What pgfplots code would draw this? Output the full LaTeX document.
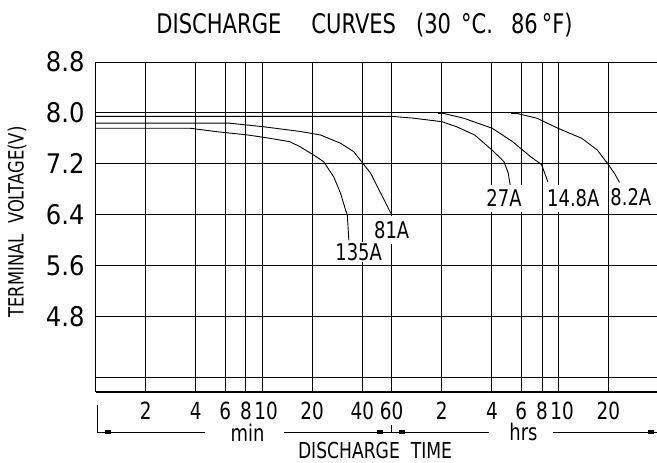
\documentclass[border=0pt]{standalone}
\usepackage{fontspec}
\setmainfont{DejaVu Sans}[FakeStretch=0.78]
\newfontfamily\ytfont{DejaVu Sans}[FakeStretch=0.9]
\usepackage{pgfplots}
\pgfplotsset{compat=1.18}

\begin{document}
\begin{tikzpicture}
\useasboundingbox (-47.8pt,-35pt) rectangle (280.7pt,196pt);
\begin{axis}[
  at={(0pt,0pt)}, anchor=south west,
  scale only axis, width=280.7pt, height=165pt,
  xmode=log, xmin=1, xmax=2355, ymin=3.62, ymax=8.8,
  axis x line*=bottom, axis y line*=left,
  axis line style={line width=0.55pt, black},
  xtick={2,4,6,8,10,20,40,60,120,240,360,480,600,1200},
  xticklabels={2,4,6\hspace{2.8pt},8,\hspace{4pt}10,20,40,60,2,4,6\hspace{3pt},8,\hspace{4pt}10,20},
  ytick={4.8,5.6,6.4,7.2,8.0,8.8},
  yticklabels={4.8,5.6,6.4,7.2,8.0,8.8},
  extra y ticks={3.84}, extra y tick labels={},
  extra y tick style={grid=major},
  grid=major, major grid style={line width=0.5pt, black},
  major tick length=0pt,
  tick label style={/pgf/number format/assume math mode=true},
  yticklabel style={font=\ytfont\fontsize{13.5}{13.5}\selectfont, xshift=-2pt},
  xticklabel style={font=\fontsize{11.8}{11.8}\selectfont, yshift=-1.5pt},
  clip=false,
]
% 135A
\addplot[black, line width=0.45pt] coordinates {
 (1,7.76)(3.70,7.76)(5.31,7.707)(8.17,7.655)(10.1,7.62)(14.65,7.55)(16.9,7.47)
 (20.4,7.34)(23.4,7.236)(26.9,7.0)(29.6,6.74)(31.7,6.48)(32.5,6.40)(33.2,6.0)};
% 81A
\addplot[black, line width=0.45pt] coordinates {
 (1,7.84)(3.70,7.84)(6.37,7.84)(8.17,7.81)(10.1,7.785)(16.9,7.71)(22.4,7.655)
 (29.6,7.525)(35.6,7.39)(40,7.22)(44.9,7.054)(51.6,6.74)(60,6.40)};
% 27A
\addplot[black, line width=0.45pt] coordinates {
 (1,7.947)(60,7.947)(80,7.92)(120,7.864)(147,7.785)(189,7.655)(240,7.42)
 (283.7,7.236)(301,7.054)(309,6.87)};
% 14.8A
\addplot[black, line width=0.45pt] coordinates {
 (120,8.0)(163,7.917)(241,7.76)(319.5,7.55)(410,7.314)(477,7.19)(520.6,6.92)};
% 8.2A
\addplot[black, line width=0.45pt] coordinates {
 (330,8.0)(448,7.917)(598,7.76)(831,7.603)(1030,7.42)(1186,7.21)(1306,7.054)(1403,6.91)};
% start markers
\addplot[only marks, mark=-, mark size=1.8pt, mark options={line width=1.3pt, black}]
 coordinates {(120,8.0)(330,8.0)};

\node[fill=white, inner xsep=2.5pt, inner ysep=0pt, minimum height=14pt,
      font=\fontsize{11.5}{11.5}\selectfont] at (axis cs:60,6.165) {81A};
\node[fill=white, inner xsep=1pt, inner ysep=0pt, minimum height=10pt,
      font=\fontsize{11.5}{11.5}\selectfont] at (axis cs:38,5.82) {135A};
\node[fill=white, inner sep=0pt, minimum height=13.5pt, minimum width=24pt,
      font=\fontsize{11.5}{11.5}\selectfont] at (axis cs:283.7,6.66) {27A};
\node[fill=white, inner xsep=1.5pt, inner ysep=0pt, minimum height=13.5pt,
      font=\fontsize{11.5}{11.5}\selectfont] at (axis cs:740,6.66) {14.8A};
\node[inner sep=0pt, font=\fontsize{11.5}{11.5}\selectfont] at (axis cs:1640,6.675) {8.2A};
\end{axis}

% title and axis titles
\node[anchor=west, inner sep=0pt, font=\fontsize{13.5}{13.5}\selectfont] at (30.2pt,183.5pt)
  {DISCHARGE\hspace{15pt}CURVES\hspace{10pt}(30\hspace{5pt}°C.\hspace{9pt}86\hspace{2pt}°F)};
\node[rotate=90, font=\fontsize{10.5}{10.5}\selectfont] at (-39.3pt,85pt) {TERMINAL\ \ VOLTAGE(V)};
\node[font=\fontsize{11}{11}\selectfont] at (139.7pt,-29pt) {DISCHARGE\ \ TIME};

% time-unit bracket
\draw[line width=0.5pt] (1.05pt,-6.5pt) -- (1.05pt,-20pt) -- (54.7pt,-20pt);
\draw[line width=0.5pt] (94.2pt,-20pt) -- (196.45pt,-20pt);
\draw[line width=0.5pt] (147.7pt,-16.5pt) -- (147.7pt,-20pt);
\draw[line width=0.5pt] (228.7pt,-20pt) -- (281pt,-20pt);
\fill (6pt,-20pt) +(-1.5pt,-0.8pt) rectangle +(1.5pt,0.8pt);
\fill (142.2pt,-20pt) +(-1.5pt,-0.8pt) rectangle +(1.5pt,0.8pt);
\fill (153.2pt,-20pt) +(-1.5pt,-0.8pt) rectangle +(1.5pt,0.8pt);
\fill (277.5pt,-20pt) +(-1.5pt,-0.8pt) rectangle +(1.5pt,0.8pt);
\node[font=\fontsize{11.5}{11.5}\selectfont] at (76pt,-20.5pt) {min};
\node[font=\fontsize{11.5}{11.5}\selectfont] at (213.95pt,-20pt) {hrs};
\end{tikzpicture}
\end{document}
